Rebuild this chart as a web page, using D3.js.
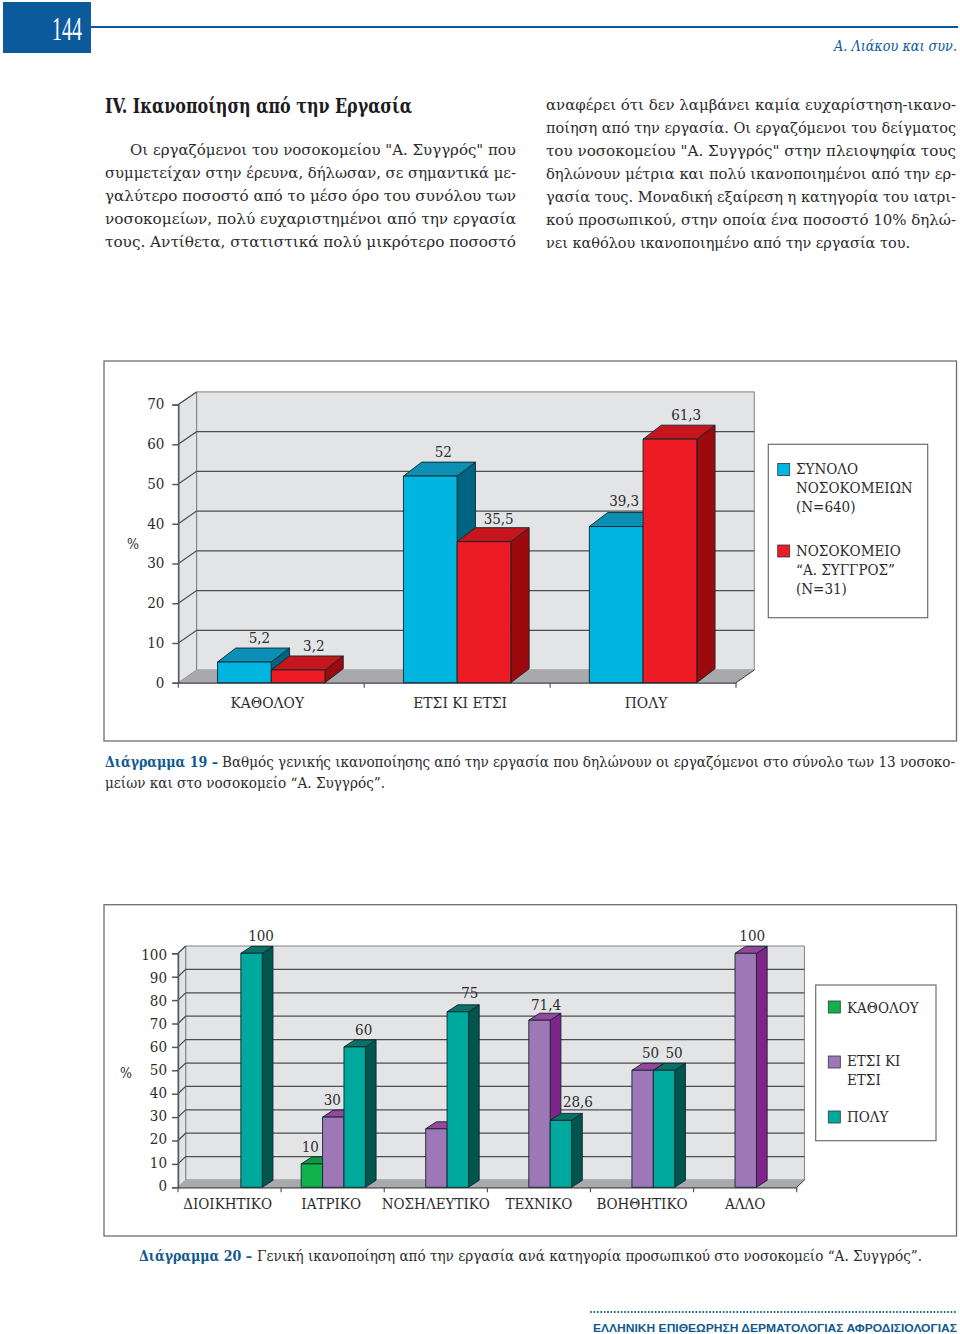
<!DOCTYPE html>
<html><head><meta charset="utf-8">
<script src="https://cdnjs.cloudflare.com/ajax/libs/d3/7.8.5/d3.min.js"></script>
<style>html,body{margin:0;padding:0;background:#fff}svg{display:block}</style>
</head><body>
<script>
// ---- chart 19 data ----
const cats19 = ["ΚΑΘΟΛΟΥ", "ΕΤΣΙ ΚΙ ΕΤΣΙ", "ΠΟΛΥ"];
const totalAll = [5.2, 52, 39.3];
const totalSyggros = [3.2, 35.5, 61.3];
const ticks19 = [0, 10, 20, 30, 40, 50, 60, 70];
// ---- chart 20 data ----
const cats20 = ["ΔΙΟΙΚΗΤΙΚΟ", "ΙΑΤΡΙΚΟ", "ΝΟΣΗΛΕΥΤΙΚΟ", "ΤΕΧΝΙΚΟ", "ΒΟΗΘΗΤΙΚΟ", "ΑΛΛΟ"];
const notAtAll = [null, 10, null, null, null, null];
const soSo = [null, 30, 25, 71.4, 50, 100];
const much = [100, 60, 75, 28.6, 50, null];
const soSoLabels = [null, "30", null, "71,4", "50", "100"];
const muchLabels = ["100", "60", "75", "28,6", "50", null];
const notLabels = [null, "10", null, null, null, null];
const ticks20 = [0, 10, 20, 30, 40, 50, 60, 70, 80, 90, 100];
// ---- page text ----
const leftLines = [
 "Οι εργαζόμενοι του νοσοκομείου \"Α. Συγγρός\" που",
 "συμμετείχαν στην έρευνα, δήλωσαν, σε σημαντικά με-",
 "γαλύτερο ποσοστό από το μέσο όρο του συνόλου των",
 "νοσοκομείων, πολύ ευχαριστημένοι από την εργασία",
 "τους. Αντίθετα, στατιστικά πολύ μικρότερο ποσοστό"];
const rightLines = [
 "αναφέρει ότι δεν λαμβάνει καμία ευχαρίστηση-ικανο-",
 "ποίηση από την εργασία. Οι εργαζόμενοι του δείγματος",
 "του νοσοκομείου \"Α. Συγγρός\" στην πλειοψηφία τους",
 "δηλώνουν μέτρια και πολύ ικανοποιημένοι από την ερ-",
 "γασία τους. Μοναδική εξαίρεση η κατηγορία του ιατρι-",
 "κού προσωπικού, στην οποία ένα ποσοστό 10% δηλώ-",
 "νει καθόλου ικανοποιημένο από την εργασία του."];

const SERIF = "'DejaVu Serif Condensed','DejaVu Serif',serif";
const INK = "#2b2b2d", BLUE = "#0b5a9c", CAP = "#11598f";
const svg = d3.select("body").append("svg").attr("width", 960).attr("height", 1334);

function text(x, y, s, o = {}) {
  const t = svg.append("text").attr("x", x).attr("y", y).text(s)
    .attr("font-family", o.family || SERIF).attr("font-size", o.size || 15)
    .attr("fill", o.fill || INK).attr("text-anchor", o.anchor || "start");
  if (o.weight) t.attr("font-weight", o.weight);
  if (o.style) t.attr("font-style", o.style);
  if (o.width) t.attr("textLength", o.width).attr("lengthAdjust", "spacingAndGlyphs");
  return t;
}

// ---- header ----
svg.append("rect").attr("x", 3).attr("y", 2).attr("width", 88).attr("height", 51).attr("fill", BLUE);
svg.append("line").attr("x1", 91).attr("x2", 958).attr("y1", 27).attr("y2", 27).attr("stroke", BLUE).attr("stroke-width", 2);
text(67, 39.5, "144", {size: 34, fill: "#fff", anchor: "middle", family: "'Liberation Serif',serif", width: 30});
text(834, 51, "Α. Λιάκου και συν.", {size: 14, fill: BLUE, style: "italic", width: 123});
text(105, 113, "IV. Ικανοποίηση από την Εργασία", {size: 20, weight: 700, fill: "#1c1c1e", width: 307});

leftLines.forEach((l, i) => text(i ? 105 : 130, 155 + i * 23, l, {size: 15.5, width: i ? 411 : 386}));
const rightWidths = [410, 410, 410, 410, 410, 410, 364];
rightLines.forEach((l, i) => text(546, 110 + i * 23, l, {size: 15.5, width: rightWidths[i]}));

// ---- captions ----
text(105, 767, "Διάγραμμα 19 –", {size: 15, weight: 700, fill: CAP, width: 113});
text(222, 767, "Βαθμός γενικής ικανοποίησης από την εργασία που δηλώνουν οι εργαζόμενοι στο σύνολο των 13 νοσοκο-", {size: 15, width: 733});
text(105, 788, "μείων και στο νοσοκομείο “Α. Συγγρός”.", {size: 15, width: 280});
text(139, 1261, "Διάγραμμα 20 –", {size: 15, weight: 700, fill: CAP, width: 113});
text(257, 1261, "Γενική ικανοποίηση από την εργασία ανά κατηγορία προσωπικού στο νοσοκομείο “Α. Συγγρός”.", {size: 15, width: 665});

// ---- footer ----
svg.append("line").attr("x1", 591).attr("x2", 957).attr("y1", 1312).attr("y2", 1312)
  .attr("stroke", CAP).attr("stroke-width", 2).attr("stroke-linecap", "round").attr("stroke-dasharray", "0 3.4");
text(593, 1331.5, "ΕΛΛΗΝΙΚΗ ΕΠΙΘΕΩΡΗΣΗ ΔΕΡΜΑΤΟΛΟΓΙΑΣ ΑΦΡΟΔΙΣΙΟΛΟΓΙΑΣ",
  {size: 11, weight: 700, fill: CAP, family: "'Liberation Sans',sans-serif", width: 364});

// ---- 3D bar chart ----
const pt = a => a.map(p => p.join(",")).join(" ");
function chart(c) {
  const g = svg.append("g");
  g.append("rect").attr("x", c.frame[0]).attr("y", c.frame[1]).attr("width", c.frame[2] - c.frame[0]).attr("height", c.frame[3] - c.frame[1])
    .attr("fill", "#fff").attr("stroke", "#6d6e71").attr("stroke-width", 1.3);
  const y = d3.scaleLinear().domain([0, c.ticks[c.ticks.length - 1]]).range([c.y0, c.yTop]);
  const x = d3.scaleBand().domain(c.cats).range([c.x0, c.x1]);
  const sub = d3.scaleBand().domain(c.series.map(s => s.key)).range([0, c.groupW]);
  const {wdx, wdy} = c;
  const top = y.range()[1];
  // walls
  g.append("polygon").attr("points", pt([[c.x0 + wdx, top - wdy], [c.x1 + wdx, top - wdy], [c.x1 + wdx, c.y0 - wdy], [c.x0 + wdx, c.y0 - wdy]]))
    .attr("fill", "#e3e4e6").attr("stroke", "#808285").attr("stroke-width", 1);
  g.append("polygon").attr("points", pt([[c.x0, top], [c.x0 + wdx, top - wdy], [c.x0 + wdx, c.y0 - wdy], [c.x0, c.y0]]))
    .attr("fill", "#e3e4e6").attr("stroke", "#808285").attr("stroke-width", 1);
  g.append("polygon").attr("points", pt([[c.x0, c.y0], [c.x0 + wdx, c.y0 - wdy], [c.x1 + wdx, c.y0 - wdy], [c.x1, c.y0]]))
    .attr("fill", "#a7a9ac");
  // gridlines
  c.ticks.filter(t => t > 0).forEach(t => {
    const last = t === c.ticks[c.ticks.length - 1];
    g.append("polyline").attr("points", pt(last ? [[c.x0, y(t)], [c.x0 + wdx, y(t) - wdy]] : [[c.x0, y(t)], [c.x0 + wdx, y(t) - wdy], [c.x1 + wdx, y(t) - wdy]]))
      .attr("fill", "none").attr("stroke", "#4d4e52").attr("stroke-width", 1.25);
  });
  g.append("line").attr("x1", c.x1).attr("x2", c.x1 + wdx).attr("y1", c.y0).attr("y2", c.y0 - wdy).attr("stroke", "#333").attr("stroke-width", 1);
  // y axis via d3
  const ya = g.append("g").attr("transform", `translate(${c.x0},0)`)
    .call(d3.axisLeft(y).tickValues(c.ticks).tickSize(6).tickPadding(c.tickPad).tickFormat(d3.format("d")));
  ya.selectAll("path,line").attr("stroke", "#58595b").attr("stroke-width", 1.5);
  ya.selectAll("text").attr("font-family", SERIF).attr("font-size", c.font).attr("fill", INK)
    .attr("transform", d => `translate(0,${c.tickShift(d)})`);
  // x axis via d3
  const xa = g.append("g").attr("transform", `translate(0,${c.y0})`)
    .call(d3.axisBottom(x).tickSize(0).tickPadding(c.catPad));
  xa.selectAll("path").attr("stroke", "#3a3a3c").attr("stroke-width", 1.2);
  xa.selectAll("text").attr("font-family", SERIF).attr("font-size", c.catFont).attr("fill", INK)
    .attr("transform", (d, i) => `translate(${c.catNudge[i]},0)`);
  xa.selectAll(".tick line").remove();
  c.cats.map(d => x(d)).concat([c.x1]).forEach(px => {
    xa.append("line").attr("x1", px).attr("x2", px).attr("y1", 0).attr("y2", 5).attr("stroke", "#58595b").attr("stroke-width", 1.2);
  });
  // bars + labels
  const labels = [];
  c.cats.forEach((cat, i) => {
    const gx = x(cat) + (x.bandwidth() - c.groupW) / 2 + c.groupShift;
    c.series.forEach(s => {
      const v = s.values[i];
      if (v == null) return;
      const bx = gx + sub(s.key), bw = sub.bandwidth(), by = y(v), b0 = y(0);
      const st = {stroke: "#10262c", "stroke-width": 0.9, "stroke-linejoin": "round"};
      const add = (pts, fill) => { const p = g.append("polygon").attr("points", pt(pts)).attr("fill", fill); Object.entries(st).forEach(([k, w]) => p.attr(k, w)); };
      add([[bx + bw, by], [bx + bw + c.bdx, by - c.bdy], [bx + bw + c.bdx, b0 - c.bdy], [bx + bw, b0]], s.side);
      add([[bx, by], [bx + c.bdx, by - c.bdy], [bx + bw + c.bdx, by - c.bdy], [bx + bw, by]], s.top);
      add([[bx, by], [bx + bw, by], [bx + bw, b0], [bx, b0]], s.front);
      const lab = s.labels[i];
      if (lab) labels.push([bx + bw / 2 + c.nudge[s.key][i], by - c.labelUp + c.nudgeY[s.key][i], lab]);
    });
  });
  labels.forEach(l => text(l[0], l[1], l[2], {size: c.font, anchor: "middle"}));
  text(c.pct[0], c.pct[1], "%", {size: c.font - 1, anchor: "middle"});
  // legend
  g.append("rect").attr("x", c.legend.box[0]).attr("y", c.legend.box[1]).attr("width", c.legend.box[2] - c.legend.box[0]).attr("height", c.legend.box[3] - c.legend.box[1])
    .attr("fill", "#fff").attr("stroke", "#6d6e71").attr("stroke-width", 1.2);
  c.legend.items.forEach((it, k) => {
    const s = c.series[k];
    g.append("rect").attr("x", c.legend.sx).attr("y", it.sy).attr("width", 12).attr("height", 12).attr("fill", s.front).attr("stroke", "#2a3a40").attr("stroke-width", 0.8);
    it.lines.forEach((ln, j) => text(c.legend.tx, it.base + j * 19, ln, {size: c.font}));
  });
}

const blue = {front: "#00b5df", top: "#0b8fb5", side: "#00637f"};
const red = {front: "#ed1c24", top: "#c4161c", side: "#9d0a0e"};
const green = {front: "#11b14b", top: "#0e9a41", side: "#0a7a33"};
const purple = {front: "#9e78b6", top: "#96479b", side: "#80238a"};
const teal = {front: "#00a99d", top: "#0a7166", side: "#00564f"};

chart({
  frame: [104, 361, 956.5, 741], cats: cats19, ticks: ticks19,
  x0: 178.3, x1: 736, y0: 682.7, yTop: 404.6, wdx: 18.3, wdy: 12.7, bdx: 18.3, bdy: 14, groupW: 107.4, groupShift: 0,
  font: 15, catFont: 15.4, tickPad: 8, catPad: 14, labelUp: 19.5, pct: [133, 549],
  tickShift: () => -0.5, catNudge: [-4, 3, 3],
  nudge: {a: [15, 13, 8], b: [15.7, 14.7, 16.3]},
  nudgeY: {a: [0, 0, -1.5], b: [1, 1.5, 0]},
  series: [
    Object.assign({key: "a", values: totalAll, labels: ["5,2", "52", "39,3"]}, blue),
    Object.assign({key: "b", values: totalSyggros, labels: ["3,2", "35,5", "61,3"]}, red)],
  legend: {box: [768.3, 444.3, 927.7, 617.7], sx: 777.7, tx: 796, items: [
    {sy: 463.5, base: 474, lines: ["ΣΥΝΟΛΟ", "ΝΟΣΟΚΟΜΕΙΩΝ", "(N=640)"]},
    {sy: 545, base: 556, lines: ["ΝΟΣΟΚΟΜΕΙΟ", "“Α. ΣΥΓΓΡΟΣ”", "(N=31)"]}]}
});

chart({
  frame: [104, 904.7, 956.5, 1236], cats: cats20, ticks: ticks20,
  x0: 178, x1: 796.7, y0: 1187.3, yTop: 953.3, wdx: 7.7, wdy: 7.3, bdx: 10.7, bdy: 7, groupW: 64.2, groupShift: 0.6,
  font: 15, catFont: 15, tickPad: 5, catPad: 11, labelUp: 12, pct: [126, 1078],
  tickShift: d => -2 + d * 0.03, catNudge: [-2, -1.5, 0, 0, 0, 0],
  nudge: {
    n: [0, -1.6, 0, 0, 0, 0],
    s: [0, -1, 0, 6.5, 8, 6.5],
    m: [9.5, 9, 12, 17, 10, 0]
  },
  nudgeY: {
    n: [0, 0, 0, 0, 0, 0],
    s: [0, 0, 0, 1.5, 0, 0],
    m: [0, 0, -2, -1.5, 0, 0]
  },
  series: [
    Object.assign({key: "n", values: notAtAll, labels: notLabels}, green),
    Object.assign({key: "s", values: soSo, labels: soSoLabels}, purple),
    Object.assign({key: "m", values: much, labels: muchLabels}, teal)],
  legend: {box: [815.7, 985, 936, 1140.7], sx: 828.3, tx: 847, items: [
    {sy: 1001, base: 1013, lines: ["ΚΑΘΟΛΟΥ"]},
    {sy: 1056, base: 1066, lines: ["ΕΤΣΙ ΚΙ", "ΕΤΣΙ"]},
    {sy: 1111, base: 1122, lines: ["ΠΟΛΥ"]}]}
});
</script>
</body></html>
